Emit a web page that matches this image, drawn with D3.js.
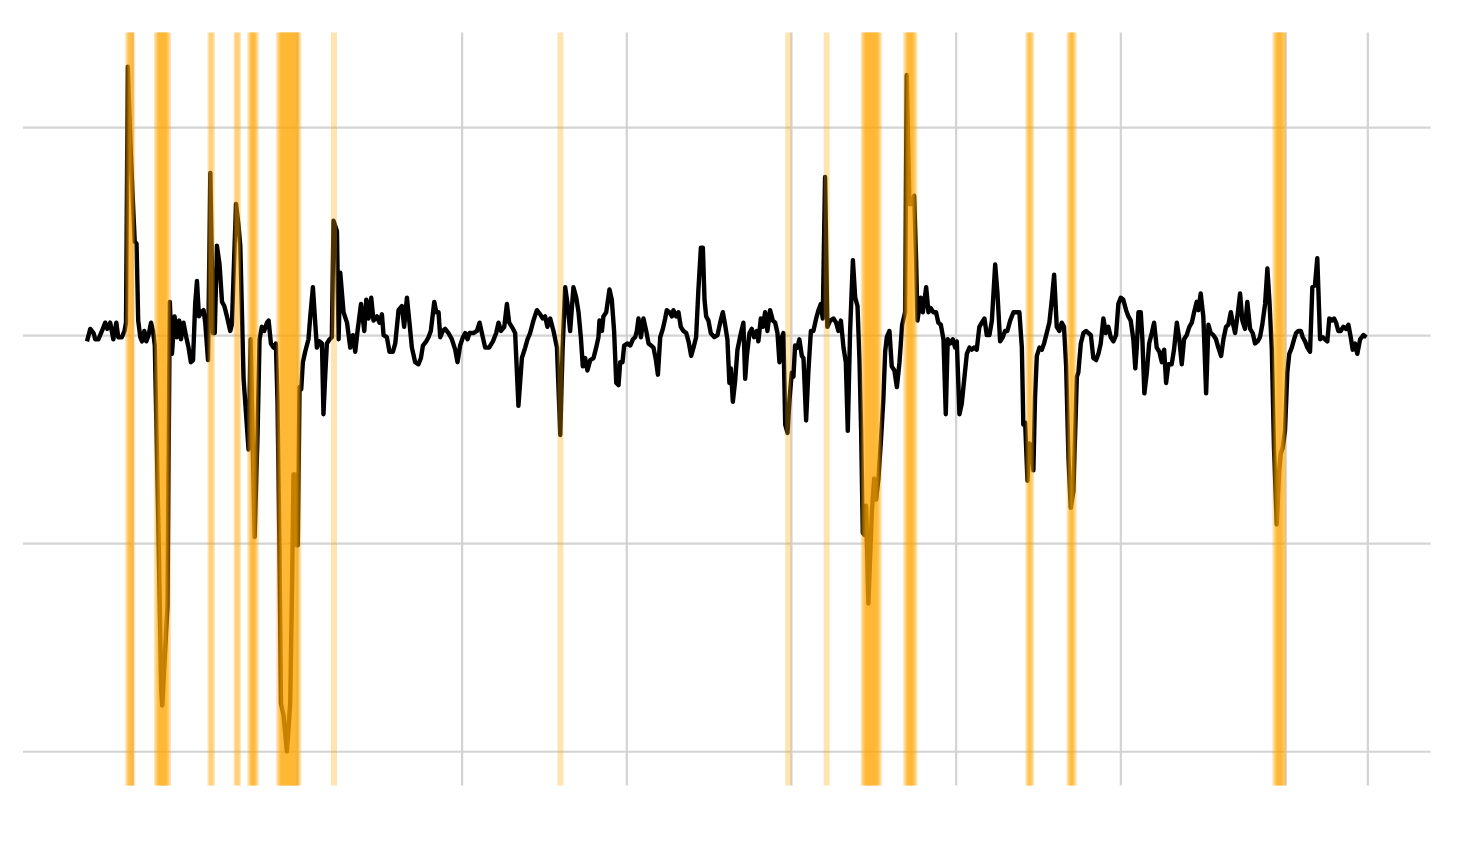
<!DOCTYPE html>
<html lang="en">
<head>
    <meta charset="UTF-8">
    <script src="https://d3js.org/d3.v7.min.js"></script>
    <title>Line-chart</title>
    <style>
        body {
            margin: 0;
            background: #ffffff;
        }
    </style>
</head>

<body>
<div id="my_dataviz"></div>
<script>

    // data: decimal year and value
    var dates = [
        1947.25,1947.45,1947.65,1947.75,1947.94,1948.16,1948.36,1948.48,1948.66,1948.85,
        1949.03,1949.15,1949.37,1949.53,1949.62,1949.73,1949.88,1950.04,1950.15,1950.26,
        1950.36,1950.49,1950.59,1950.73,1950.85,1950.99,1951.14,1951.26,1951.37,1951.58,
        1951.76,1951.82,1952.14,1952.28,1952.41,1952.57,1952.71,1952.85,1952.96,1953.11,
        1953.28,1953.42,1953.56,1953.69,1953.82,1953.93,1954.05,1954.19,1954.33,1954.43,
        1954.60,1954.74,1954.90,1955.01,1955.14,1955.30,1955.45,1955.59,1955.75,1955.95,
        1956.05,1956.30,1956.45,1956.56,1956.76,1957.06,1957.19,1957.43,1957.61,1957.73,
        1957.87,1958.01,1958.18,1958.28,1958.42,1958.58,1958.72,1958.82,1958.94,1959.03,
        1959.19,1959.39,1959.59,1959.70,1959.79,1959.88,1959.96,1960.05,1960.16,1960.26,
        1960.36,1960.50,1960.70,1960.81,1960.97,1961.11,1961.21,1961.37,1961.52,1961.61,
        1961.72,1961.82,1961.98,1962.12,1962.22,1962.43,1962.53,1962.63,1962.83,1963.04,
        1963.24,1963.40,1963.54,1963.68,1963.89,1964.09,1964.21,1964.35,1964.51,1964.65,
        1964.86,1965.01,1965.16,1965.26,1965.46,1965.62,1965.83,1965.97,1966.17,1966.37,
        1966.51,1966.68,1966.82,1966.98,1967.18,1967.38,1967.53,1967.65,1967.85,1967.99,
        1968.13,1968.34,1968.46,1968.60,1968.70,1968.86,1969.00,1969.20,1969.41,1969.61,
        1969.75,1969.91,1970.08,1970.22,1970.36,1970.48,1970.72,1970.93,1971.09,1971.23,
        1971.43,1971.67,1971.90,1972.10,1972.24,1972.39,1972.59,1972.75,1972.89,1973.05,
        1973.25,1973.45,1973.66,1973.86,1974.00,1974.16,1974.36,1974.57,1974.77,1974.93,
        1975.07,1975.21,1975.38,1975.58,1975.79,1975.99,1976.13,1976.29,1976.43,1976.59,
        1976.79,1976.96,1977.10,1977.24,1977.36,1977.50,1977.64,1977.81,1978.01,1978.17,
        1978.31,1978.37,1978.52,1978.61,1978.78,1978.98,1979.12,1979.26,1979.39,1979.53,
        1979.63,1979.77,1979.87,1980.07,1980.24,1980.40,1980.54,1980.64,1980.74,1980.89,
        1981.04,1981.21,1981.35,1981.51,1981.65,1981.80,1981.92,1982.06,1982.22,1982.36,
        1982.46,1982.62,1982.77,1982.86,1983.03,1983.17,1983.31,1983.47,1983.64,1983.78,
        1983.94,1984.08,1984.24,1984.38,1984.53,1984.65,1984.75,1984.85,1984.99,1985.13,
        1985.34,1985.54,1985.70,1985.86,1986.00,1986.14,1986.26,1986.35,1986.47,1986.61,
        1986.75,1986.96,1987.11,1987.22,1987.32,1987.48,1987.62,1987.76,1987.93,1988.02,
        1988.17,1988.29,1988.43,1988.57,1988.73,1988.90,1989.04,1989.18,1989.30,1989.44,
        1989.54,1989.65,1989.79,1989.91,1990.05,1990.15,1990.25,1990.39,1990.51,1990.66,
        1990.76,1990.92,1991.06,1991.21,1991.36,1991.53,1991.67,1991.81,1991.93,1992.07,
        1992.21,1992.38,1992.58,1992.74,1992.88,1993.03,1993.19,1993.33,1993.45,1993.59,
        1993.76,1993.90,1994.04,1994.16,1994.26,1994.36,1994.46,1994.56,1994.70,1994.91,
        1995.05,1995.17,1995.31,1995.46,1995.61,1995.72,1995.82,1995.98,1996.12,1996.28,
        1996.43,1996.59,1996.75,1996.93,1997.03,1997.19,1997.34,1997.48,1997.60,1997.68,
        1997.88,1998.01,1998.21,1998.35,1998.49,1998.65,1998.81,1998.95,1999.10,1999.26,
        1999.40,1999.52,1999.66,1999.83,1999.97,2000.07,2000.23,2000.37,2000.51,2000.68,
        2000.84,2000.98,2001.12,2001.28,2001.44,2001.59,2001.75,2001.89,2002.05,2002.20,
        2002.40,2002.54,2002.70,2002.86,2003.00,2003.14,2003.31,2003.51,2003.71,2003.87,
        2004.02,2004.11,2004.22,2004.36,2004.48,2004.62,2004.72,2004.82,2004.93,2005.09,
        2005.23,2005.37,2005.53,2005.69,2005.84,2005.98,2006.14,2006.30,2006.44,2006.58,
        2006.71,2006.85,2006.99,2007.15,2007.25,2007.36,2007.45,2007.60,2007.76,2007.92,
        2008.06,2008.21,2008.36,2008.53,2008.67,2008.81,2008.97,2009.12,2009.27,2009.42,
        2009.58,2009.74,2009.88,2010.03,2010.18,2010.35,2010.49,2010.63,2010.79,2010.91,
        2011.00,2011.10,2011.24,2011.34,2011.46,2011.61,2011.75,2011.91,2012.05,2012.21,
        2012.37,2012.52,2012.66,2012.78,2012.92,2013.12,2013.26,2013.43,2013.58,2013.73,
        2013.87,2014.03,2014.19,2014.34,2014.48,2014.64,2014.74,2014.88,2015.04,2015.21,
        2015.35,2015.49,2015.65,2015.81,2015.95,2016.12,2016.26,2016.42,2016.56,2016.71,
        2016.83,2016.97,2017.11,2017.27,2017.41,2017.57,2017.71,2017.88,2018.04,2018.18,
        2018.34,2018.48,2018.62,2018.79,2018.93,2019.05,2019.20,2019.33,2019.50,2019.64,
        2019.74,2019.86,2020.00,2020.14,2020.26,2020.41,2020.55,2020.67,2020.81,2020.96,
        2021.08,2021.22,2021.36,2021.52,2021.66,2021.82,2021.96,2022.13,2022.29,2022.43,
        2022.57,2022.69,2022.84,2022.98,2023.10,2023.24,2023.38,2023.54,2023.71,2023.85,
        2023.99,2024.11,2024.25,2024.39,2024.56,2024.76,2024.95
    ];

    var values = [
        -0.03,0.03,0.01,-0.02,-0.02,0.02,0.06,0.03,0.06,-0.02,
        0.06,-0.01,-0.01,0.02,0.06,1.29,0.93,0.64,0.45,0.44,
        0.07,-0.01,-0.03,0.02,-0.03,0,0.06,0.02,-0.05,-0.89,
        -1.71,-1.78,-1.30,0.16,-0.09,0.09,-0.01,0.07,-0.02,0.06,
        -0.01,-0.06,-0.13,-0.12,0.15,0.26,0.09,0.11,0.12,0.06,
        -0.12,0.78,0.01,0.01,0.43,0.34,0.16,0.14,0.09,0.02,
        0.05,0.63,0.53,0.43,-0.21,-0.55,-0.02,-0.97,-0.47,-0.02,
        0.04,0.02,0.06,0.07,-0.04,-0.06,-0.04,-0.32,-1.03,-1.77,
        -1.83,-2.00,-1.77,-1.22,-0.67,-0.67,-1.01,-1.01,-0.25,-0.26,
        -0.13,-0.08,-0.02,0.09,0.23,0.06,-0.06,-0.03,-0.04,-0.38,
        -0.19,-0.04,-0.02,-0.01,0.55,0.50,-0.02,0.30,0.11,0.06,
        -0.06,0,-0.08,0.02,0.15,0.02,0.17,0.08,0.18,0.07,
        0.09,0.06,0.10,0,-0.01,-0.08,-0.08,-0.04,0.12,0.14,
        0.04,0.18,0.07,-0.06,-0.13,-0.14,-0.11,-0.05,-0.03,-0.01,
        0.02,0.16,0.11,0.11,-0.01,0.02,0.03,0.01,-0.02,-0.07,
        -0.13,-0.05,-0.01,0.01,-0.02,0.01,0.01,0.02,0.06,0.01,
        -0.06,-0.06,-0.03,0.01,0.06,0.02,0.04,0.15,0.06,0.04,
        0.01,-0.34,-0.11,-0.06,-0.02,0.01,0.07,0.12,0.10,0.08,
        0.09,0.04,0.08,0.02,-0.06,-0.48,-0.07,0.23,0.15,0.02,
        0.23,0.18,0.11,-0.01,-0.15,-0.11,-0.17,-0.12,-0.11,-0.06,
        -0.01,0.07,0.02,0.09,0.11,0.22,0.17,0.02,-0.23,-0.24,
        -0.13,-0.13,-0.05,-0.04,-0.05,-0.02,-0.01,0.02,0.08,-0.01,
        0.08,0.02,-0.04,-0.05,-0.06,-0.12,-0.19,-0.01,0.03,0.08,
        0.12,0.11,0.09,0.12,0.09,0.11,0.04,0.02,0.01,-0.03,
        -0.10,-0.06,-0.01,0.22,0.42,0.42,0.17,0.09,0.07,0.01,
        -0.01,0,0.06,0.11,0.05,-0.02,-0.23,-0.16,-0.32,-0.22,
        -0.07,0.01,0.06,-0.21,-0.10,0.01,0.03,-0.01,0.02,-0.03,
        0.08,0.04,0.11,0.02,0.12,0.07,0.06,0.01,-0.13,-0.01,
        0.01,-0.43,-0.47,-0.31,-0.18,-0.20,-0.05,-0.06,-0.02,-0.10,
        -0.11,-0.41,-0.17,0.02,0.02,0.08,0.12,0.15,0.08,0.76,
        0.04,0.07,0.08,0.06,0.02,0.07,-0.06,-0.13,-0.46,0.02,
        0.36,0.18,0.14,-0.12,-0.46,-0.95,-0.96,-0.82,-1.29,-0.85,
        -0.69,-0.79,-0.69,-0.51,-0.31,-0.08,-0.01,0.02,-0.15,-0.17,
        -0.25,-0.13,0.05,0.11,1.25,0.63,0.63,0.67,0.36,0.07,
        0.18,0.11,0.23,0.11,0.13,0.11,0.11,0.06,0.05,-0.02,
        -0.38,-0.02,-0.04,-0.02,-0.06,-0.03,-0.38,-0.33,-0.22,-0.09,
        -0.06,-0.07,-0.06,-0.07,0.04,0.06,0.08,0,0,0.07,
        0.34,0.20,-0.03,-0.01,0.02,0.02,0.07,0.11,0.11,0.11,
        -0.06,-0.43,-0.42,-0.70,-0.52,-0.55,-0.65,-0.30,-0.10,-0.06,
        -0.07,-0.04,0.01,0.06,0.17,0.29,0.04,0.02,0.06,0.04,
        -0.15,-0.59,-0.83,-0.75,-0.49,-0.20,-0.18,-0.04,0.01,0.02,
        0.01,0,-0.11,-0.12,-0.09,-0.04,0.08,0.01,0.04,-0.01,
        -0.03,0,0.15,0.18,0.17,0.12,0.09,0.07,-0.02,-0.16,
        -0.06,0.11,0.11,-0.02,-0.28,-0.18,-0.04,0.01,0.06,-0.06,
        -0.08,-0.13,-0.07,-0.23,-0.14,-0.14,-0.07,0.06,-0.02,-0.14,
        -0.02,0,0.04,0.06,0.11,0.16,0.12,0.20,0.09,-0.28,
        0.05,0.01,0,-0.02,-0.06,-0.10,-0.02,0.04,0.05,0.11,
        0.06,0.01,0.09,0.20,0.07,0.03,0.16,0.03,0.01,-0.04,
        -0.03,-0.01,0.05,0.15,0.32,0.17,-0.07,-0.54,-0.91,-0.66,
        -0.57,-0.54,-0.46,-0.18,-0.09,-0.06,-0.02,0.01,0.02,0.02,
        -0.01,-0.03,-0.06,-0.08,0.23,0.24,0.37,-0.02,-0.01,-0.02,
        -0.03,0.08,0.07,0.08,0.06,0.02,0.02,0.04,0.03,0.05,
        -0.01,-0.07,-0.04,-0.09,-0.02,0,-0.01
    ];

    // flagged months, one shaded vertical line each
    var flagged = [
        1949.75,1949.833,1949.917,1950.0,
        1951.5,1951.583,1951.667,1951.75,1951.833,1951.917,1952.0,1952.083,1952.167,
        1954.75,1954.833,
        1956.333,1956.417,
        1957.167,1957.25,1957.333,1957.417,1957.5,
        1958.917,1959.0,1959.083,1959.167,1959.25,1959.333,1959.417,1959.5,
        1959.583,1959.667,1959.75,1959.833,1959.917,1960.0,1960.083,
        1962.25,
        1976.0,
        1989.833,
        1992.167,
        1994.417,1994.5,1994.583,1994.667,1994.75,1994.833,1994.917,1995.0,
        1995.083,1995.167,1995.25,1995.333,
        1997.0,1997.083,1997.167,1997.25,1997.333,1997.417,1997.5,
        2004.417,2004.5,2004.583,
        2006.917,2007.0,2007.083,2007.167,
        2019.417,2019.5,2019.583,2019.667,2019.75,2019.833,2019.917
    ];

    // gridline positions
    var xBreaks = [1950, 1960, 1970, 1980, 1990, 2000, 2010, 2020, 2025];
    var yBreaks = [-2, -1, 0, 1];

    var data = dates.map(function(d, i) { return {date: d, value: values[i]}; });

    // set the dimensions and margins of the graph
    var width = 1458,
        height = 858,
        panel = {left: 23, right: 1430.5, top: 32.5, bottom: 785.5};

    var svg = d3.select("#my_dataviz")
        .append("svg")
        .attr("width", width)
        .attr("height", height)
        .style("display", "block");

    // scales with 5% padding on both sides
    var xExt = d3.extent(dates),
        xPad = (xExt[1] - xExt[0]) * 0.05;
    var x = d3.scaleLinear()
        .domain([xExt[0] - xPad, xExt[1] + xPad])
        .range([panel.left, panel.right]);

    var yExt = d3.extent(values),
        yPad = (yExt[1] - yExt[0]) * 0.05;
    var y = d3.scaleLinear()
        .domain([yExt[0] - yPad, yExt[1] + yPad])
        .range([panel.bottom, panel.top]);

    // gridlines
    svg.append("g")
        .attr("transform", "translate(0," + panel.bottom + ")")
        .call(d3.axisBottom(x).tickValues(xBreaks).tickSize(-(panel.bottom - panel.top)).tickFormat(""))
        .call(function(g) { g.select(".domain").remove(); })
        .selectAll(".tick line")
        .attr("stroke", "#d3d3d3")
        .attr("stroke-width", 2.2);

    svg.append("g")
        .attr("transform", "translate(" + panel.left + ",0)")
        .call(d3.axisLeft(y).tickValues(yBreaks).tickSize(-(panel.right - panel.left)).tickFormat(""))
        .call(function(g) { g.select(".domain").remove(); })
        .selectAll(".tick line")
        .attr("stroke", "#d3d3d3")
        .attr("stroke-width", 2.2);

    // the line
    svg.append("path")
        .datum(data)
        .attr("fill", "none")
        .attr("stroke", "black")
        .attr("stroke-width", 4.4)
        .attr("stroke-linejoin", "round")
        .attr("d", d3.line()
            .x(function(d) { return x(d.date) })
            .y(function(d) { return y(d.value) })
        );

    // shaded flags on top
    svg.append("g")
        .selectAll("line")
        .data(flagged)
        .enter()
        .append("line")
        .attr("x1", function(d) { return x(d); })
        .attr("x2", function(d) { return x(d); })
        .attr("y1", panel.top)
        .attr("y2", panel.bottom)
        .attr("stroke", "#FFA500")
        .attr("stroke-opacity", 0.3)
        .attr("stroke-width", 6);

</script>
</body>
</html>
